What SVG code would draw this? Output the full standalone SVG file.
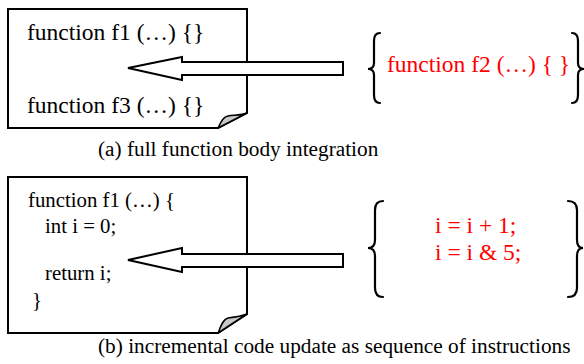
<svg xmlns="http://www.w3.org/2000/svg" width="584" height="364" viewBox="0 0 584 364">
  <style>
    .page { fill: #fff; stroke: #000; stroke-width: 2; stroke-linejoin: miter; }
    .curl { fill: #c8c8c8; stroke: #000; stroke-width: 1.5; stroke-linejoin: round; }
    .arrow { fill: #fff; stroke: #000; stroke-width: 2; stroke-linejoin: miter; }
    .brace { fill: none; stroke: #000; stroke-width: 2.2; stroke-linecap: round; }
    text { font-family: "Liberation Serif", "Times New Roman", serif; fill: #000; }
    .code { font-size: 23.5px; }
    .small { font-size: 20.8px; }
    .cap { font-size: 21.3px; }
    .red { fill: #ff0000; }
  </style>

  <!-- (a) target page with two functions -->
  <g id="page-a">
    <path class="page" d="M8,9 H247 V113 L218,128 H8 Z"/>
    <path class="curl" d="M218,128 C221,122 223,117 228,116 C236,115 242,115 247,113 Z"/>
    <text class="code" x="27" y="40">function f1 (…) {}</text>
    <text class="code" x="27" y="113">function f3 (…) {}</text>
  </g>

  <!-- (a) inserted function -->
  <g id="insert-a">
    <path class="brace" d="M380,33 Q374,33 374,41 V63 Q374,69 368,69 Q374,69 374,75 V95 Q374,103 380,103"/>
    <path class="brace" d="M572,33 Q578,33 578,41 V63 Q578,69 584,69 Q578,69 578,75 V95 Q578,103 572,103"/>
    <text class="code red" x="387" y="72">function f2 (…) { }</text>
  </g>

  <!-- (b) target page with function body -->
  <g id="page-b">
    <path class="page" d="M8,177 H247 V314 L218,333 H8 Z"/>
    <path class="curl" d="M218,333 C221,326 223,319 228,318 C236,317 242,316 247,314 Z"/>
    <text class="small" x="28" y="207">function f1 (…) {</text>
    <text class="small" x="45" y="233">int i = 0;</text>
    <text class="small" x="45" y="280">return i;</text>
    <text class="small" x="32" y="307">}</text>
  </g>

  <!-- (b) inserted instruction sequence -->
  <g id="insert-b">
    <path class="brace" d="M383,201 Q375,201 375,210 V240 Q375,248 368,248 Q375,248 375,256 V288 Q375,297 383,297"/>
    <path class="brace" d="M568,201 Q577,201 577,210 V240 Q577,248 583,248 Q577,248 577,256 V288 Q577,297 568,297"/>
    <text class="code red" x="435" y="233">i = i + 1;</text>
    <text class="code red" x="435" y="260">i = i &amp; 5;</text>
  </g>

  <!-- insertion arrows -->
  <g id="connectors">
    <path class="arrow" d="M128,68 L182,57 V62 H343 V75 H182 V80 Z"/>
    <path class="arrow" d="M128,260 L182,248 V254 H343 V267 H182 V272 Z"/>
  </g>

  <!-- captions -->
  <text class="cap" x="98" y="156">(a) full function body integration</text>
  <text class="cap" x="98" y="353">(b) incremental code update as sequence of instructions</text>
</svg>
